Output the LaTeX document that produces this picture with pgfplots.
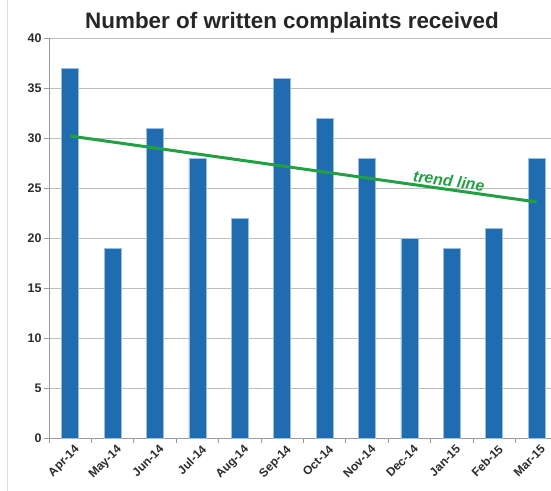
\documentclass[border=0pt]{standalone}
\usepackage{fontspec}
\setmainfont{Liberation Sans}
\usepackage{pgfplots}
\pgfplotsset{compat=1.18}
\definecolor{barblue}{HTML}{1F6CB1}
\definecolor{baredge}{HTML}{9DBDE0}
\definecolor{trendgreen}{HTML}{22A044}
\definecolor{gridgray}{HTML}{BEBEBE}
\definecolor{axisgray}{HTML}{9A9A9A}
\definecolor{txt}{HTML}{2B2B2B}
\begin{document}
\begin{tikzpicture}
\begin{axis}[
    scale only axis, width=502bp, height=400bp,
    xmin=-0.5, xmax=11.34, ymin=0, ymax=40,
    axis x line*=bottom, axis y line*=left,
    axis line style={axisgray, line width=0.9bp},
    ytick={0,5,...,40},
    xtick={0,...,11},
    xticklabels={Apr-14,May-14,Jun-14,Jul-14,Aug-14,Sep-14,Oct-14,Nov-14,Dec-14,Jan-15,Feb-15,Mar-15},
    minor xtick={-0.5,0.5,...,11.5},
    major x tick style={draw=none},
    tick align=outside,
    major tick length=5bp, minor tick length=5bp,
    tick style={axisgray, line width=0.9bp},
    ymajorgrids, grid style={gridgray, line width=0.9bp},
    /pgf/number format/assume math mode=true,
    yticklabel style={font=\fontsize{12.5}{14}\selectfont\bfseries, text=txt, xshift=1bp},
    xticklabel style={font=\fontsize{12}{14}\selectfont\bfseries, text=txt,
                      rotate=45, anchor=north east, xshift=5bp, yshift=0bp},
    title={Number of written complaints received},
    every axis title shift=0pt,
    title style={font=\fontsize{22.5}{26}\selectfont\bfseries, text=black!85, yshift=1bp, xshift=-8bp},
    clip=false,
  ]
\addplot[ybar, bar width=17bp, fill=barblue, draw=baredge, line width=0.7bp] coordinates {
  (0,37) (1,19) (2,31) (3,28) (4,22) (5,36) (6,32) (7,28) (8,20) (9,19) (10,21) (11,28)};
\addplot[trendgreen, line width=3bp] coordinates {(0,30.2) (11,23.6)};
\node[text=trendgreen, font=\fontsize{16}{17}\selectfont\bfseries\itshape,
      rotate=-8.1, anchor=south] at (axis cs:8.9,24.8) {trend line};
\end{axis}
\draw[gray!25, line width=1bp]
  ([xshift=-41bp,yshift=-53bp]current axis.south west) --
  ([xshift=-41bp,yshift=38bp]current axis.north west);
\pgfresetboundingbox
\path ([xshift=-49bp,yshift=-53bp]current axis.south west) rectangle
      ([yshift=38bp]current axis.north east);
\end{tikzpicture}
\end{document}
